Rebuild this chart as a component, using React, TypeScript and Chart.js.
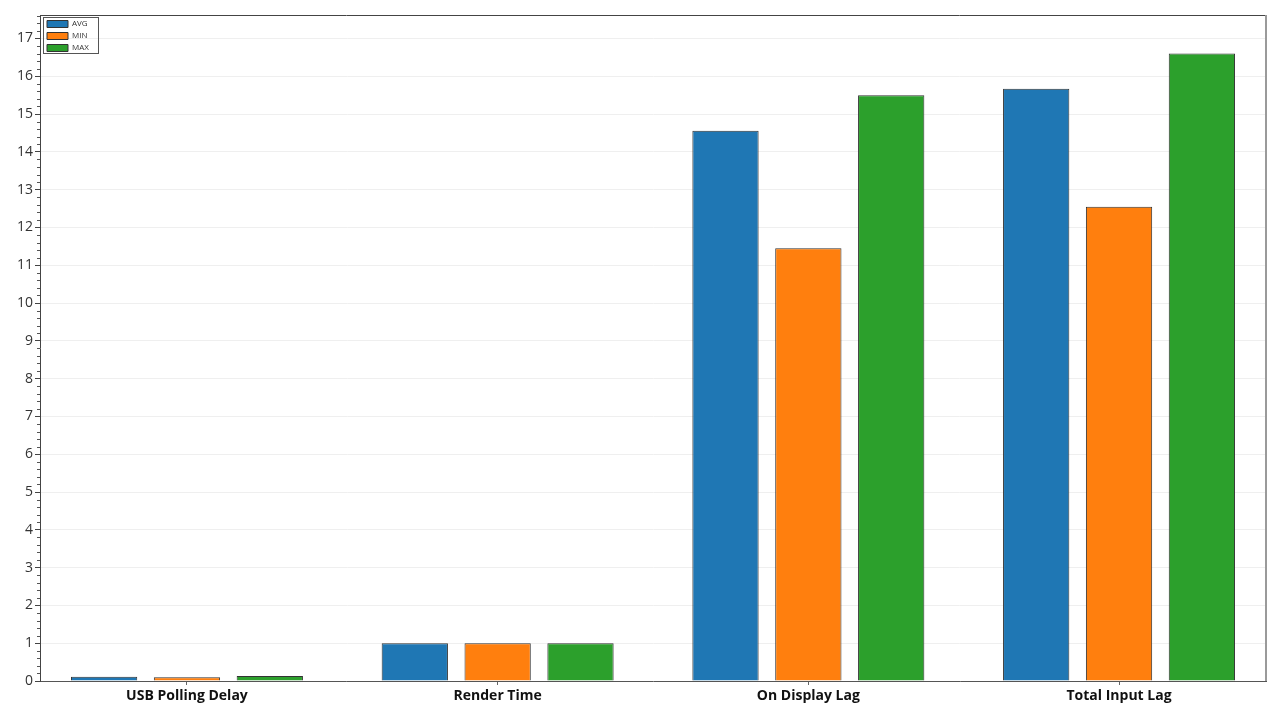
import React, { useEffect, useRef } from "react";
import { Chart, registerables } from "chart.js";

Chart.register(...registerables);

const categories = ["USB Polling Delay", "Render Time", "On Display Lag", "Total Input Lag"];
const seriesNames = ["AVG", "MIN", "MAX"];
const avgValues = [0.11, 1.0, 14.56, 15.67];
const minValues = [0.1, 1.0, 11.45, 12.55];
const maxValues = [0.13, 1.0, 15.5, 16.6];
const seriesColors = ["#1f77b4", "#ff7f0e", "#2ca02c"];
const yMax = 17.62;
const xEdgeFraction = 0.473;

const FONT = "'Open Sans', 'DejaVu Sans', sans-serif";

const framePlugin = {
  id: "frame",
  afterLayout(chart: any) {
    const lg = chart.legend;
    if (lg) {
      lg.left = chart.chartArea.left + 3;
      lg.top = chart.chartArea.top + 1;
    }
  },
  afterDraw(chart: any) {
    const { ctx, chartArea, scales } = chart;
    const y = scales.y;
    ctx.save();
    // minor ticks
    ctx.strokeStyle = "#555";
    ctx.lineWidth = 1;
    for (let i = 1; i * 0.2 <= yMax; i++) {
      if (i % 5 === 0) continue;
      const py = Math.round(y.getPixelForValue(i * 0.2)) + 0.5;
      ctx.beginPath();
      ctx.moveTo(chartArea.left - 3, py);
      ctx.lineTo(chartArea.left, py);
      ctx.stroke();
    }
    // top border
    ctx.strokeStyle = "#444";
    ctx.lineWidth = 1;
    ctx.beginPath();
    ctx.moveTo(chartArea.left, chartArea.top + 0.5);
    ctx.lineTo(chartArea.right, chartArea.top + 0.5);
    ctx.stroke();
    // right border
    ctx.strokeStyle = "#9a9a9a";
    ctx.lineWidth = 2;
    ctx.beginPath();
    ctx.moveTo(chartArea.right, chartArea.top);
    ctx.lineTo(chartArea.right, chartArea.bottom);
    ctx.stroke();
    // legend border
    const lg = chart.legend;
    if (lg && lg.legendItems) {
      const pad = lg.options.labels.padding;
      const rowH = Math.max(lg.options.labels.font.size, lg.options.labels.boxHeight) + pad;
      ctx.strokeStyle = "#555";
      ctx.lineWidth = 1;
      ctx.strokeRect(
        Math.round(lg.left) + 0.5,
        Math.round(lg.top + 1) + 0.5,
        Math.round(lg.width - 1),
        lg.legendItems.length * rowH
      );
    }
    ctx.restore();
  },
};

export default function App() {
  const canvasRef = useRef<HTMLCanvasElement>(null);

  useEffect(() => {
    document.body.style.margin = "0";
    const canvas = canvasRef.current;
    if (!canvas) return;
    const valueSets = [avgValues, minValues, maxValues];
    const chart = new Chart(canvas, {
      type: "bar",
      data: {
        labels: categories,
        datasets: seriesNames.map((name, i) => ({
          label: name,
          data: valueSets[i],
          backgroundColor: seriesColors[i],
          borderColor: "#333",
          borderWidth: 1,
          categoryPercentage: 0.8,
          barPercentage: 0.8,
        })),
      },
      options: {
        animation: false,
        responsive: false,
        maintainAspectRatio: false,
        layout: { padding: { top: 15, right: 14, left: 0, bottom: 0 } },
        plugins: {
          tooltip: { enabled: false },
          legend: {
            position: "chartArea" as any,
            align: "start",
            labels: {
              boxWidth: 21,
              boxHeight: 7,
              padding: 4,
              color: "#333",
              font: { family: FONT, size: 8 },
            },
          },
        },
        scales: {
          x: {
            offset: true,
            afterBuildTicks: (scale: any) => {
              const n = categories.length;
              scale._startValue = -xEdgeFraction;
              scale._valueRange = n - 1 + 2 * xEdgeFraction;
            },
            afterFit: (scale: any) => {
              scale.height = 39;
            },
            grid: {
              display: true,
              drawOnChartArea: false,
              offset: false,
              tickLength: 4,
              tickColor: "#666",
            },
            border: { color: "#555", width: 1 },
            ticks: {
              color: "#111",
              padding: 3,
              font: { family: FONT, size: 14, weight: "bold" },
            },
          },
          y: {
            min: 0,
            max: yMax,
            afterFit: (scale: any) => {
              scale.width = 40;
            },
            grid: {
              color: "#efefef",
              tickColor: "#444",
              tickLength: 5,
            },
            border: { color: "#444", width: 1 },
            ticks: {
              stepSize: 1,
              includeBounds: false,
              color: "#333",
              padding: 2,
              font: { family: FONT, size: 14 },
            },
          },
        },
      },
      plugins: [framePlugin],
    });
    return () => chart.destroy();
  }, []);

  return (
    <div style={{ width: 1280, height: 720 }}>
      <canvas ref={canvasRef} width={1280} height={720} style={{ display: "block" }} />
    </div>
  );
}
